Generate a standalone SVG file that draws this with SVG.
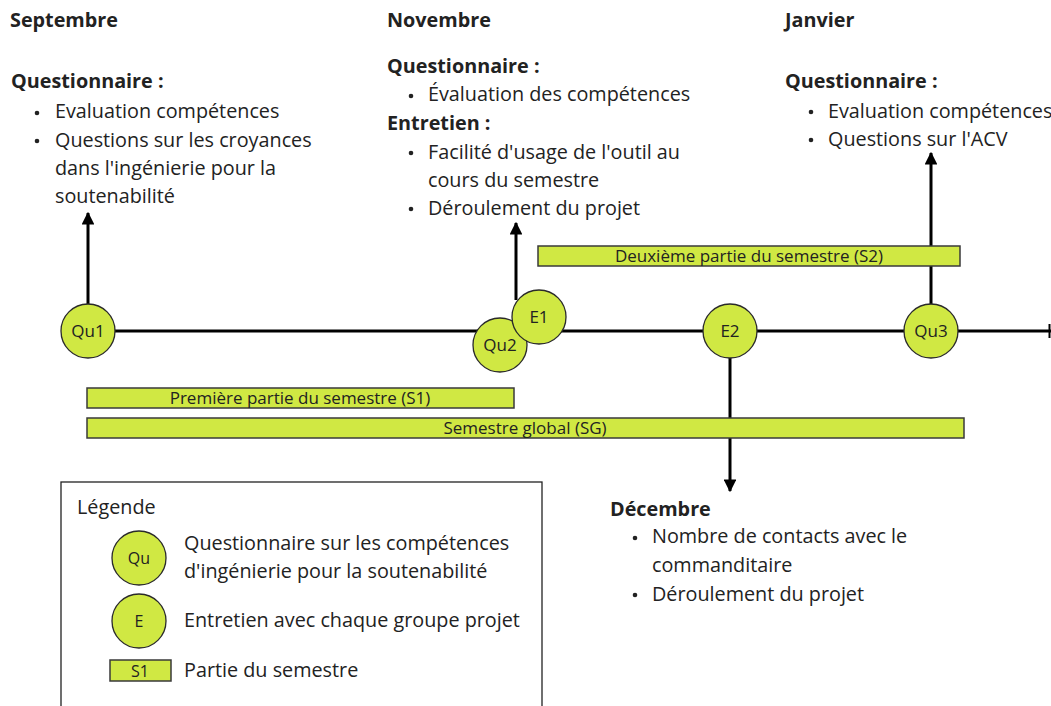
<svg xmlns="http://www.w3.org/2000/svg" width="1051" height="706" viewBox="0 0 1051 706">
<defs>
<marker id="ah" viewBox="0 0 10 10" refX="9" refY="5" markerWidth="4.3" markerHeight="4.3" orient="auto" markerUnits="strokeWidth">
<path d="M0,0 L10,5 L0,10 z" fill="#000"/>
</marker>
<style>
text{font-family:"Open Sans","Noto Sans","Liberation Sans",sans-serif;fill:#222}
.h{font-size:19.8px;font-weight:bold}
.b{font-size:19.8px}
.n{font-size:17px}
.ns{font-size:16px}
.bar{font-size:17px}
.c{fill:#d0e843;stroke:#2a2a2a;stroke-width:1.3}
.r{fill:#d0e843;stroke:#3a3a3a;stroke-width:1.5}
.ln{stroke:#000;stroke-width:3;fill:none}
.dot{fill:#222}
</style>
</defs>
<rect width="1051" height="706" fill="#fff"/>
<g id="connectors">
<line class="ln" x1="88" y1="331" x2="1051" y2="331"/>
<line x1="1049.5" y1="324" x2="1049.5" y2="338" stroke="#000" stroke-width="2"/>
<line class="ln" x1="88" y1="305" x2="88" y2="213" marker-end="url(#ah)"/>
<line class="ln" x1="516" y1="300" x2="516" y2="223" marker-end="url(#ah)"/>
<line class="ln" x1="931" y1="305" x2="931" y2="153" marker-end="url(#ah)"/>
<line class="ln" x1="730" y1="358" x2="730" y2="491" marker-end="url(#ah)"/>
</g>
<g id="bar-s2"><rect class="r" x="538" y="246" width="422" height="20"/><text class="bar" x="749" y="262" text-anchor="middle">Deuxième partie du semestre (S2)</text></g>
<g id="bar-s1"><rect class="r" x="87" y="388" width="427" height="20"/><text class="bar" x="300" y="404" text-anchor="middle">Première partie du semestre (S1)</text></g>
<g id="bar-sg"><rect class="r" x="87" y="418" width="877" height="20"/><text class="bar" x="525" y="434" text-anchor="middle">Semestre global (SG)</text></g>
<g id="qu1"><circle class="c" cx="88" cy="331" r="27"/><text class="n" x="88" y="337" text-anchor="middle">Qu1</text></g>
<g id="qu2"><circle class="c" cx="500" cy="345" r="27"/><text class="n" x="500" y="351" text-anchor="middle">Qu2</text></g>
<g id="e1"><circle class="c" cx="539" cy="317" r="27"/><text class="n" x="539" y="323" text-anchor="middle">E1</text></g>
<g id="e2"><circle class="c" cx="730" cy="331" r="27"/><text class="n" x="730" y="337" text-anchor="middle">E2</text></g>
<g id="qu3"><circle class="c" cx="931" cy="331" r="27"/><text class="n" x="931" y="337" text-anchor="middle">Qu3</text></g>
<g id="septembre">
<text class="h" x="10" y="27">Septembre</text>
<text class="h" x="11" y="88">Questionnaire :</text>
<circle class="dot" cx="37" cy="113" r="2.3"/>
<text class="b" x="55" y="118">Evaluation compétences</text>
<circle class="dot" cx="37" cy="141" r="2.3"/>
<text class="b" x="55" y="147">Questions sur les croyances</text>
<text class="b" x="55" y="175">dans l'ingénierie pour la</text>
<text class="b" x="55" y="203">soutenabilité</text>
</g>
<g id="novembre">
<text class="h" x="387" y="27">Novembre</text>
<text class="h" x="387" y="73">Questionnaire :</text>
<circle class="dot" cx="411" cy="96" r="2.3"/>
<text class="b" x="428" y="101">Évaluation des compétences</text>
<text class="h" x="387" y="130">Entretien :</text>
<circle class="dot" cx="411" cy="153" r="2.3"/>
<text class="b" x="428" y="159">Facilité d'usage de l'outil au</text>
<text class="b" x="428" y="187">cours du semestre</text>
<circle class="dot" cx="411" cy="209" r="2.3"/>
<text class="b" x="428" y="215">Déroulement du projet</text>
</g>
<g id="janvier">
<text class="h" x="785" y="27">Janvier</text>
<text class="h" x="785" y="88">Questionnaire :</text>
<circle class="dot" cx="811" cy="112" r="2.3"/>
<text class="b" x="828" y="118">Evaluation compétences</text>
<circle class="dot" cx="811" cy="140" r="2.3"/>
<text class="b" x="828" y="146">Questions sur l'ACV</text>
</g>
<g id="decembre">
<text class="h" x="610" y="516">Décembre</text>
<circle class="dot" cx="635" cy="538" r="2.3"/>
<text class="b" x="652" y="543">Nombre de contacts avec le</text>
<text class="b" x="652" y="572">commanditaire</text>
<circle class="dot" cx="635" cy="595" r="2.3"/>
<text class="b" x="652" y="601">Déroulement du projet</text>
</g>
<g id="legende">
<rect x="61" y="482" width="481" height="240" fill="#fff" stroke="#222" stroke-width="1.3"/>
<text class="b" x="77" y="514">Légende</text>
<circle class="c" cx="139" cy="558" r="27"/><text class="ns" x="139" y="564" text-anchor="middle">Qu</text>
<text class="b" x="184" y="550">Questionnaire sur les compétences</text>
<text class="b" x="184" y="578">d'ingénierie pour la soutenabilité</text>
<circle class="c" cx="139" cy="621" r="27"/><text class="ns" x="139" y="627" text-anchor="middle">E</text>
<text class="b" x="184" y="627">Entretien avec chaque groupe projet</text>
<rect class="r" x="110" y="660" width="61" height="21"/><text class="ns" x="140" y="677" text-anchor="middle">S1</text>
<text class="b" x="184" y="677">Partie du semestre</text>
</g>
</svg>
